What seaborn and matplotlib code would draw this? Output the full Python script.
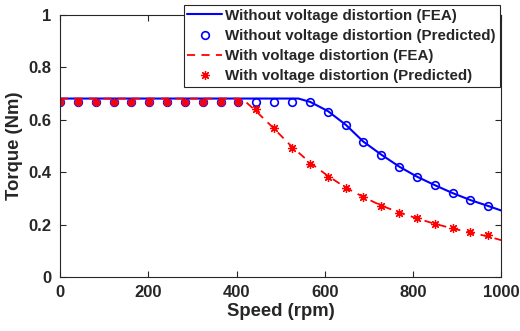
import matplotlib
matplotlib.use("Agg")
import matplotlib.pyplot as plt
import seaborn as sns
import numpy as np

# ---- data ----
speed_pred = [0, 40.4, 80.8, 121.3, 161.7, 202.1, 242.5, 282.9, 323.3, 363.8, 404.2,
              444.6, 485.0, 525.4, 565.8, 606.3, 646.7, 687.1, 727.5, 767.9, 808.3,
              848.8, 889.2, 929.6, 970.0]
torque_wo_pred = [0.668, 0.668, 0.668, 0.668, 0.668, 0.668, 0.668, 0.668, 0.668, 0.668, 0.668,
                  0.668, 0.668, 0.668, 0.665, 0.630, 0.578, 0.515, 0.466, 0.420, 0.382,
                  0.349, 0.319, 0.292, 0.270]
torque_w_pred = [0.668, 0.668, 0.668, 0.668, 0.668, 0.668, 0.668, 0.668, 0.668, 0.668, 0.668,
                 0.640, 0.569, 0.493, 0.432, 0.380, 0.338, 0.304, 0.272, 0.245, 0.225,
                 0.203, 0.187, 0.173, 0.159]

speed_fea_wo = [0, 100, 200, 300, 400, 500, 540, 567, 607, 648, 687, 728, 769, 809, 849,
                889, 930, 971, 1000]
torque_fea_wo = [0.680, 0.680, 0.680, 0.680, 0.680, 0.680, 0.680, 0.667, 0.632, 0.579, 0.516,
                 0.466, 0.420, 0.382, 0.350, 0.320, 0.293, 0.270, 0.253]

speed_fea_w = [0, 100, 200, 300, 400, 415, 444, 485, 526, 567, 607, 648, 687, 728, 768,
               806, 846, 887, 927, 969, 1000]
torque_fea_w = [0.680, 0.680, 0.680, 0.680, 0.680, 0.676, 0.632, 0.565, 0.495, 0.435, 0.385,
                0.340, 0.305, 0.272, 0.246, 0.225, 0.204, 0.186, 0.170, 0.155, 0.140]

labels = ["Without voltage distortion (FEA)",
          "Without voltage distortion (Predicted)",
          "With voltage distortion (FEA)",
          "With voltage distortion (Predicted)"]
x_ticks = [0, 200, 400, 600, 800, 1000]
y_ticks = [0, 0.2, 0.4, 0.6, 0.8, 1.0]
y_ticklabels = ["0", "0.2", "0.4", "0.6", "0.8", "1"]

# ---- style ----
sns.set_style("ticks")
plt.rcParams["font.family"] = ["Liberation Sans", "DejaVu Sans"]
plt.rcParams["font.weight"] = "bold"

fig = plt.figure(figsize=(5.2, 3.31), dpi=100)
ax = fig.add_axes([0.1154, 0.1631, 0.849, 0.7929])

sns.lineplot(x=speed_fea_wo, y=torque_fea_wo, ax=ax, color="#0000ff", lw=1.5,
             label=labels[0], estimator=None, sort=False)
sns.lineplot(x=speed_pred, y=torque_wo_pred, ax=ax, color="#0000ff", lw=0,
             marker="o", markersize=5.5, markerfacecolor="none", markeredgecolor="#0000ff",
             markeredgewidth=1.2, label=labels[1], estimator=None, sort=False)
sns.lineplot(x=speed_fea_w, y=torque_fea_w, ax=ax, color="#ff0000", lw=1.3,
             linestyle=(0, (4.5, 3.5)), label=labels[2], estimator=None, sort=False)
sns.lineplot(x=speed_pred, y=torque_w_pred, ax=ax, color="#ff0000", lw=0,
             marker=(8, 2, 0), markersize=6.5, markeredgecolor="#ff0000",
             markeredgewidth=0.9, label=labels[3], estimator=None, sort=False)

ax.set_xlim(0, 1000)
ax.set_ylim(0, 1)
ax.set_xticks(x_ticks)
ax.set_yticks(y_ticks)
ax.set_yticklabels(y_ticklabels)
ax.set_xlabel("Speed (rpm)", fontsize=13.3, fontweight="bold", color="#262626", labelpad=2)
ax.set_ylabel("Torque (Nm)", fontsize=13.3, fontweight="bold", color="#262626", labelpad=4)
ax.tick_params(direction="in", length=4, width=0.8, colors="#262626", labelsize=12,
               top=True, right=True, pad=6)
for lab in ax.get_xticklabels() + ax.get_yticklabels():
    lab.set_fontweight("bold")
for sp in ax.spines.values():
    sp.set_visible(True)
    sp.set_color("#262626")
    sp.set_linewidth(0.8)

leg = ax.legend(loc="upper right", bbox_to_anchor=(0.9606, 0.985),
                bbox_transform=fig.transFigure, borderaxespad=0, fancybox=False,
                framealpha=1, edgecolor="#262626", handlelength=2.3, handletextpad=0.2,
                labelspacing=0.4, borderpad=0.25, prop={"weight": "bold", "size": 10.9})
leg.get_frame().set_linewidth(0.8)

fig.savefig("out.png", dpi=100)
